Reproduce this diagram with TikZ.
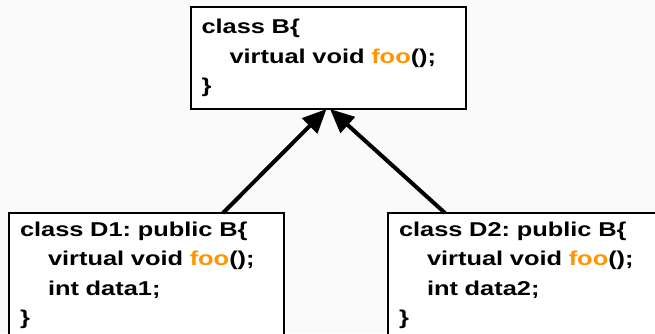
\documentclass[tikz,border=0pt]{standalone}
\usepackage{fontspec}
\setmainfont{Liberation Sans}[FakeStretch=1.27]
\usepackage{tikz}
\usetikzlibrary{arrows.meta,positioning}
\frenchspacing
\definecolor{bgpaper}{HTML}{FAFAFA}
\definecolor{methodorange}{HTML}{FF9500}
\newcommand{\methodname}[1]{\textcolor{methodorange}{#1}}
\newcommand{\ind}{\hspace*{28pt}}
\tikzstyle{classbox} = [rectangle, draw, fill=white, line width=2pt, outer sep=0pt, inner xsep=11pt, inner ysep=9pt, text width=253pt, align=left, font=\fontsize{20}{29.5}\selectfont\bfseries]
\tikzstyle{line} = [draw, line width=4pt, -{Triangle[length=24pt,width=21pt]}]

\begin{document}
\begin{tikzpicture}
    \fill [bgpaper] (0,0) rectangle (655pt,333pt);
    \useasboundingbox (0,0) rectangle (655pt,333pt);
    \clip (0,0) rectangle (655pt,333pt);
    \node [classbox, minimum height=102pt, anchor=north west] (b) at (190.5pt,326pt) {class B\{\\ \ind virtual void \methodname{foo}();\\ \}};
    \node [classbox, below left=104pt and -93.5pt of b] (d1) {class D1: public B\{\\ \ind virtual void \methodname{foo}();\\ \ind int data1;\\ \}};
    \node [classbox, below right=104pt and -77.5pt of b] (d2) {class D2: public B\{\\ \ind virtual void \methodname{foo}();\\ \ind int data2;\\ \}};
    \path [line] ([xshift=214pt]d1.north west) -- ([xshift=136pt]b.south west);
    \path [line] ([xshift=57pt]d2.north west) -- ([xshift=139.5pt]b.south west);
\end{tikzpicture}
\end{document}
